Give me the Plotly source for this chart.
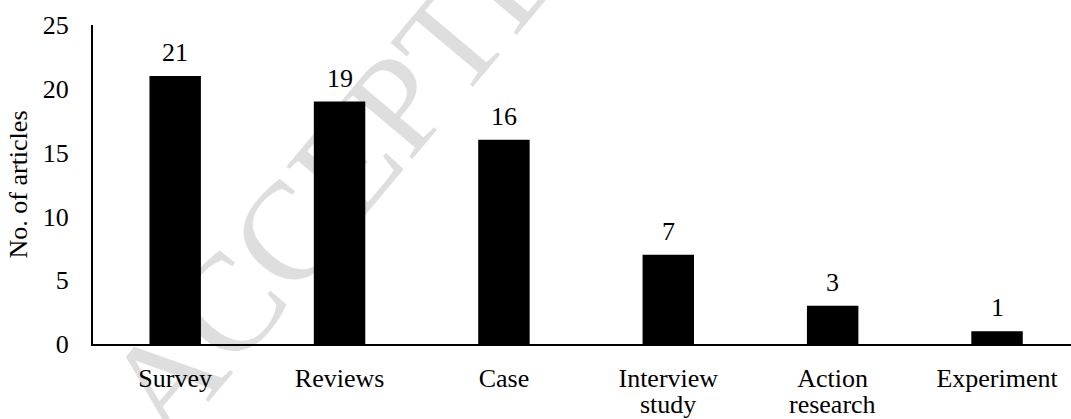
import plotly.graph_objects as go

# Research methods of the reviewed articles
categories = ["Survey", "Reviews", "Case", "Interview<br>study", "Action<br>research", "Experiment"]
counts = [21, 19, 16, 7, 3, 1]

y_ticks = [0, 5, 10, 15, 20, 25]

FONT = "Liberation Serif, Times New Roman, serif"
SIZE = 26

# first line of each label goes on the axis, the second line sits tightly below it
first_lines = [c.split("<br>")[0] for c in categories]
second_lines = [c.split("<br>")[1] if "<br>" in c else "" for c in categories]

fig = go.Figure()
fig.add_trace(go.Bar(
    x=categories,
    y=counts,
    marker=dict(color="black", line=dict(width=0)),
    showlegend=False,
))

# value labels above each bar
for c, v in zip(categories, counts):
    fig.add_annotation(
        x=c, y=v, text=str(v), showarrow=False,
        xref="x", yref="y", yanchor="bottom", yshift=7,
        font=dict(family=FONT, size=SIZE, color="black"),
    )

# second line of the wrapped category labels
for c, s in zip(categories, second_lines):
    if s:
        fig.add_annotation(
            x=c, y=0, text=s, showarrow=False,
            xref="x", yref="y", yanchor="middle", yshift=-60,
            font=dict(family=FONT, size=SIZE, color="black"),
        )

# faint diagonal watermark
fig.add_annotation(
    x=0.278, y=0.636, xref="paper", yref="paper",
    xanchor="center", yanchor="middle",
    text="ACCEPTED", showarrow=False, textangle=-50,
    font=dict(family=FONT, size=140, color="rgba(0,0,0,0.13)"),
)

fig.update_layout(
    width=1071, height=419,
    margin=dict(l=93, r=0, t=25, b=75),
    paper_bgcolor="white", plot_bgcolor="white",
    bargap=0.687,
    font=dict(family=FONT, size=SIZE, color="black"),
    xaxis=dict(
        range=[-0.5, 5.45],
        automargin=False,
        tickvals=categories,
        ticktext=first_lines,
        showline=True, linecolor="black", linewidth=2,
        showgrid=False, zeroline=False, ticks="",
        ticklabelstandoff=10,
        tickfont=dict(family=FONT, size=SIZE, color="black"),
    ),
    yaxis=dict(
        range=[0, 25],
        automargin=False,
        tickvals=y_ticks,
        showline=True, linecolor="black", linewidth=2,
        showgrid=False, zeroline=False, ticks="",
        ticklabelstandoff=17,
        tickfont=dict(family=FONT, size=SIZE, color="black"),
        title=dict(text="No. of articles", font=dict(family=FONT, size=SIZE, color="black"), standoff=8),
    ),
)

fig.write_html("out.html")
